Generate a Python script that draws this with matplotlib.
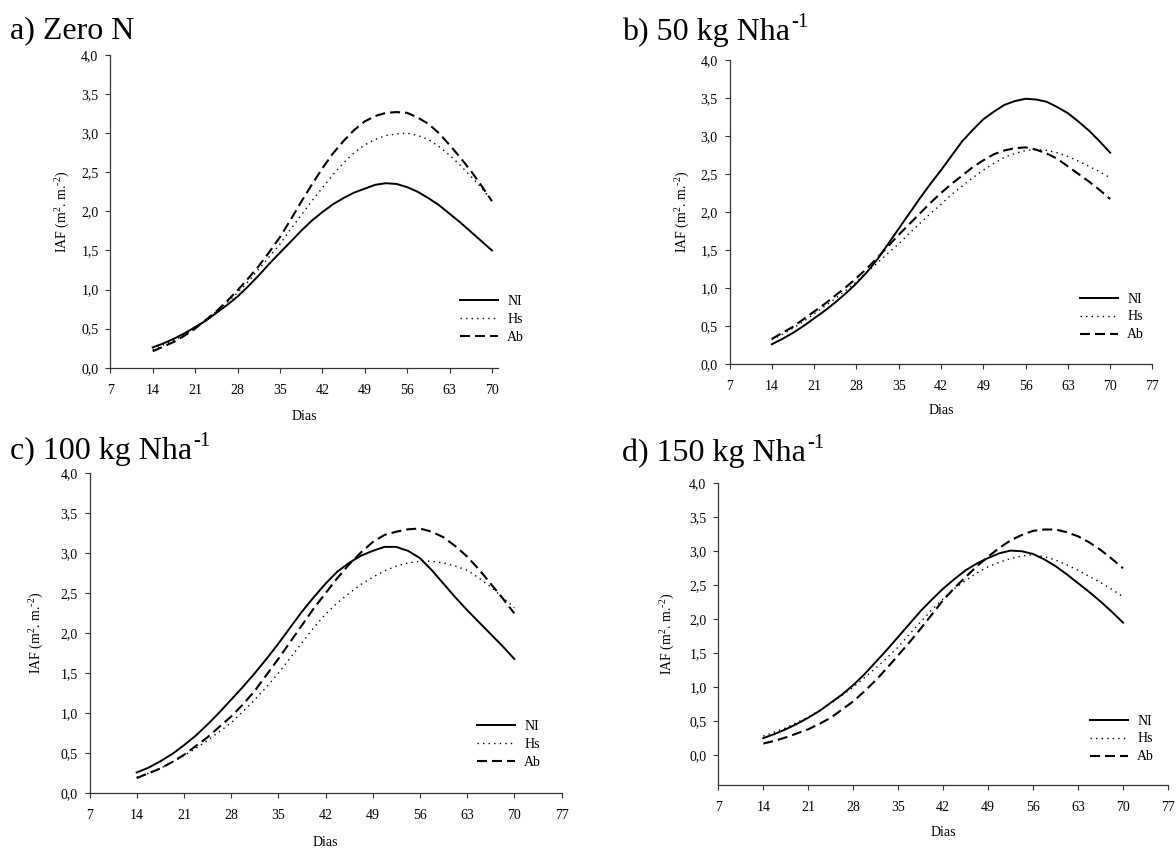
import matplotlib
matplotlib.use("Agg")
import matplotlib.pyplot as plt

plt.rcParams['font.family'] = ['Liberation Serif', 'DejaVu Serif']
plt.rcParams['mathtext.fontset'] = 'custom'
plt.rcParams['mathtext.rm'] = 'Liberation Serif'
plt.rcParams['mathtext.it'] = 'Liberation Serif:italic'
plt.rcParams['mathtext.bf'] = 'Liberation Serif:bold'

# Sampling days (DAE)
days = [14, 15.75, 17.5, 19.25, 21, 22.75, 24.5, 26.25, 28, 29.75, 31.5, 33.25,
        35, 36.75, 38.5, 40.25, 42, 43.75, 45.5, 47.25, 49, 50.75, 52.5, 54.25,
        56, 57.75, 59.5, 61.25, 63, 64.75, 66.5, 68.25, 70]

# Leaf area index (IAF) per nitrogen rate and inoculation treatment
# a) Zero N
iaf_0_ni = [0.26, 0.31, 0.37, 0.44, 0.52, 0.60, 0.70, 0.80, 0.91, 1.04, 1.18, 1.33,
            1.47, 1.61, 1.75, 1.88, 1.99, 2.09, 2.17, 2.24, 2.29, 2.34, 2.36, 2.35,
            2.31, 2.25, 2.17, 2.08, 1.97, 1.86, 1.74, 1.62, 1.50]
iaf_0_hs = [0.23, 0.29, 0.35, 0.42, 0.51, 0.61, 0.72, 0.83, 0.96, 1.10, 1.26, 1.42,
            1.58, 1.77, 1.95, 2.13, 2.30, 2.47, 2.62, 2.75, 2.85, 2.92, 2.97, 2.99,
            3.00, 2.97, 2.92, 2.83, 2.72, 2.59, 2.45, 2.30, 2.14]
iaf_0_ab = [0.21, 0.27, 0.33, 0.41, 0.50, 0.61, 0.72, 0.85, 0.99, 1.14, 1.30, 1.48,
            1.67, 1.89, 2.12, 2.34, 2.55, 2.74, 2.90, 3.04, 3.15, 3.22, 3.26, 3.27,
            3.26, 3.20, 3.12, 3.00, 2.85, 2.69, 2.52, 2.33, 2.13]
# b) 50 kg N/ha
iaf_50_ni = [0.26, 0.33, 0.41, 0.50, 0.60, 0.70, 0.81, 0.93, 1.06, 1.21, 1.38, 1.58,
             1.78, 1.98, 2.18, 2.37, 2.55, 2.74, 2.93, 3.08, 3.22, 3.32, 3.41, 3.46,
             3.49, 3.48, 3.45, 3.38, 3.30, 3.19, 3.07, 2.93, 2.78]
iaf_50_hs = [0.32, 0.39, 0.47, 0.56, 0.66, 0.76, 0.86, 0.97, 1.08, 1.21, 1.33, 1.46,
             1.58, 1.72, 1.85, 1.98, 2.10, 2.23, 2.34, 2.45, 2.55, 2.64, 2.72, 2.77,
             2.81, 2.82, 2.81, 2.78, 2.73, 2.67, 2.60, 2.53, 2.45]
iaf_50_ab = [0.33, 0.41, 0.49, 0.59, 0.69, 0.79, 0.90, 1.01, 1.13, 1.26, 1.40, 1.55,
             1.70, 1.84, 1.98, 2.12, 2.25, 2.37, 2.48, 2.59, 2.68, 2.76, 2.81, 2.84,
             2.85, 2.82, 2.77, 2.70, 2.60, 2.50, 2.40, 2.29, 2.17]
# c) 100 kg N/ha
iaf_100_ni = [0.26, 0.32, 0.40, 0.49, 0.60, 0.72, 0.86, 1.01, 1.17, 1.33, 1.50, 1.68,
              1.87, 2.07, 2.27, 2.45, 2.62, 2.77, 2.88, 2.97, 3.03, 3.08, 3.08, 3.03,
              2.94, 2.79, 2.62, 2.45, 2.29, 2.14, 1.99, 1.84, 1.68]
iaf_100_hs = [0.20, 0.25, 0.31, 0.39, 0.47, 0.56, 0.66, 0.77, 0.88, 1.02, 1.17, 1.33,
              1.50, 1.69, 1.88, 2.07, 2.24, 2.38, 2.50, 2.61, 2.70, 2.78, 2.84, 2.88,
              2.90, 2.90, 2.88, 2.84, 2.79, 2.69, 2.58, 2.45, 2.32]
iaf_100_ab = [0.19, 0.25, 0.31, 0.39, 0.48, 0.59, 0.70, 0.83, 0.96, 1.11, 1.28, 1.48,
              1.68, 1.89, 2.10, 2.31, 2.50, 2.69, 2.86, 3.01, 3.14, 3.23, 3.27, 3.30,
              3.31, 3.27, 3.20, 3.09, 2.96, 2.80, 2.62, 2.44, 2.25]
# d) 150 kg N/ha
iaf_150_ni = [0.25, 0.31, 0.38, 0.46, 0.55, 0.65, 0.77, 0.89, 1.03, 1.19, 1.37, 1.55,
              1.74, 1.93, 2.12, 2.29, 2.45, 2.59, 2.72, 2.82, 2.90, 2.97, 3.01, 3.00,
              2.96, 2.88, 2.78, 2.66, 2.53, 2.40, 2.26, 2.11, 1.95]
iaf_150_hs = [0.28, 0.34, 0.40, 0.48, 0.56, 0.66, 0.76, 0.88, 1.00, 1.14, 1.28, 1.43,
              1.59, 1.78, 1.96, 2.14, 2.30, 2.45, 2.57, 2.68, 2.77, 2.84, 2.89, 2.93,
              2.95, 2.92, 2.87, 2.80, 2.72, 2.63, 2.54, 2.44, 2.33]
iaf_150_ab = [0.17, 0.21, 0.26, 0.32, 0.38, 0.46, 0.55, 0.67, 0.79, 0.94, 1.10, 1.28,
              1.47, 1.66, 1.86, 2.07, 2.28, 2.46, 2.62, 2.78, 2.92, 3.05, 3.16, 3.24,
              3.30, 3.32, 3.32, 3.28, 3.22, 3.13, 3.02, 2.89, 2.75]

series_labels = ['NI', 'Hs', 'Ab']
panel_titles = ['a) Zero N', 'b) 50 kg Nha', 'c) 100 kg Nha', 'd) 150 kg Nha']
panel_title_sup = ['', '-1', '-1', '-1']
x_ticks_short = [7, 14, 21, 28, 35, 42, 49, 56, 63, 70]
x_ticks_long = [7, 14, 21, 28, 35, 42, 49, 56, 63, 70, 77]
y_ticks = [0.0, 0.5, 1.0, 1.5, 2.0, 2.5, 3.0, 3.5, 4.0]
y_tick_labels = ['0,0', '0,5', '1,0', '1,5', '2,0', '2,5', '3,0', '3,5', '4,0']
x_label = 'Dias'
y_label = r'IAF (m$^{2}$. m.$^{\text{-2}}$)'

W, H = 1176, 850
fig = plt.figure(figsize=(W / 100, H / 100), dpi=100)

styles = [dict(color='black', lw=1.4, linestyle='-'),
          dict(color='black', lw=1.0, linestyle=(0, (1, 3))),
          dict(color='black', lw=1.5, linestyle=(0, (4.8, 2.4)))]

# panel layout in pixels: axes box (left, right, bottom, top), y minimum, x maximum,
# title (x, baseline y), ylabel centre x, xlabel centre y, legend (line start x, middle y)
layout = [
    dict(box=(110.3, 498.0, 367.7, 55.0), ymin=0.0, xmax=71, xt=x_ticks_short,
         title=(10, 38), ylab=63, xlab=417, leg=(460, 319.5)),
    dict(box=(729.5, 1152.5, 364.0, 60.0), ymin=0.0, xmax=77, xt=x_ticks_long,
         title=(622, 40), ylab=683, xlab=411, leg=(1080, 317)),
    dict(box=(89.5, 561.5, 793.3, 473.3), ymin=0.0, xmax=77, xt=x_ticks_long,
         title=(10, 459), ylab=37, xlab=843, leg=(477, 744.3)),
    dict(box=(718.3, 1168.0, 785.0, 483.3), ymin=-0.44, xmax=77, xt=x_ticks_long,
         title=(622, 461), ylab=668, xlab=833, leg=(1090, 739)),
]

data = [
    (iaf_0_ni, iaf_0_hs, iaf_0_ab),
    (iaf_50_ni, iaf_50_hs, iaf_50_ab),
    (iaf_100_ni, iaf_100_hs, iaf_100_ab),
    (iaf_150_ni, iaf_150_hs, iaf_150_ab),
]

spine_col = '#333333'
title_texts = []
for lay, curves, title in zip(layout, data, panel_titles):
    l, r, b, t = lay['box']
    ax = fig.add_axes([l / W, 1 - b / H, (r - l) / W, (b - t) / H])
    for vals, st, lab in zip(curves, styles, series_labels):
        ax.plot(days, vals, label=lab, **st)
    ax.set_xlim(7, lay['xmax'])
    ax.set_ylim(lay['ymin'], 4.0)
    ax.set_xticks(lay['xt'])
    ax.set_xticklabels([str(v) for v in lay['xt']])
    ax.set_yticks(y_ticks)
    ax.set_yticklabels(y_tick_labels)
    for s in ('top', 'right'):
        ax.spines[s].set_visible(False)
    for s in ('left', 'bottom'):
        ax.spines[s].set_color(spine_col)
        ax.spines[s].set_linewidth(0.9)
    ax.tick_params(direction='out', length=3.5, width=0.8, color=spine_col,
                   labelsize=10, pad=5)
    ax.tick_params(axis='x', pad=8)

    ax.set_ylabel(y_label, fontsize=10, va='center')
    ax.yaxis.set_label_coords((lay['ylab'] - l) / (r - l), 0.5)
    ax.set_xlabel(x_label, fontsize=10, va='center')
    ax.xaxis.set_label_coords(0.5, (b - lay['xlab']) / (b - t))

    title_texts.append(fig.text(lay['title'][0] / W, 1 - lay['title'][1] / H, title,
                                fontsize=23, va='baseline', ha='left'))

    lx, ly = lay['leg']
    ax.legend(loc='center left', bbox_to_anchor=(lx / W, 1 - ly / H),
              bbox_transform=fig.transFigure, frameon=False, fontsize=10,
              handlelength=2.7, handletextpad=0.7, labelspacing=0.35,
              borderpad=0, borderaxespad=0)

# superscript units after the panel titles
fig.canvas.draw()
renderer = fig.canvas.get_renderer()
for txt, sup, lay in zip(title_texts, panel_title_sup, layout):
    if not sup:
        continue
    bb = txt.get_window_extent(renderer)
    fig.text((bb.x1 + 1) / W, 1 - (lay['title'][1] - 13) / H, sup,
             fontsize=15, va='baseline', ha='left')

fig.savefig('out.png', dpi=100, facecolor='white')
